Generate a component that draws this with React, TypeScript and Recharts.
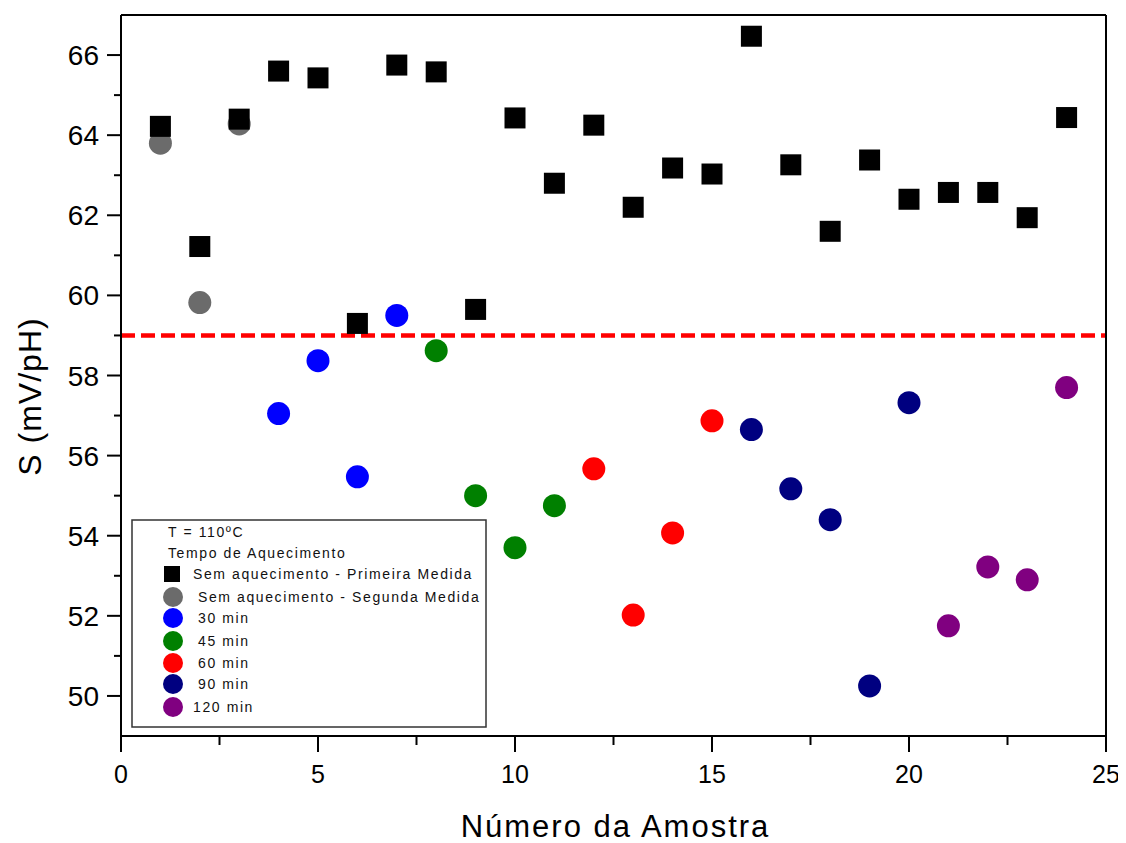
import React from 'react';
import { ScatterChart, Scatter, XAxis, YAxis, ReferenceLine, Legend } from 'recharts';

const FONT = '"Liberation Sans", Arial, sans-serif';

// ---- data ----
const primeiraX = [1, 2, 3, 4, 5, 6, 7, 8, 9, 10, 11, 12, 13, 14, 15, 16, 17, 18, 19, 20, 21, 22, 23, 24];
const primeiraS = [64.22, 61.22, 64.4, 65.6, 65.43, 59.3, 65.75, 65.58, 59.65, 64.43, 62.8, 64.25, 62.2, 63.18, 63.03, 66.47, 63.26, 61.6, 63.38, 62.4, 62.57, 62.57, 61.94, 64.44];
const segundaX = [1, 2, 3];
const segundaS = [63.8, 59.82, 64.28];
const min30X = [4, 5, 6, 7];
const min30S = [57.05, 58.37, 55.47, 59.5];
const min45X = [8, 9, 10, 11];
const min45S = [58.62, 55.0, 53.7, 54.75];
const min60X = [12, 13, 14, 15];
const min60S = [55.67, 52.02, 54.07, 56.87];
const min90X = [16, 17, 18, 19, 20];
const min90S = [56.65, 55.17, 54.4, 50.25, 57.32];
const min120X = [21, 22, 23, 24];
const min120S = [51.75, 53.22, 52.9, 57.7];

const referenceS = 59;

const xTicks = [0, 2.5, 5, 7.5, 10, 12.5, 15, 17.5, 20, 22.5, 25];
const yTicks = [50, 51, 52, 53, 54, 55, 56, 57, 58, 59, 60, 61, 62, 63, 64, 65, 66];
const rightTicks = [1, 2, 3, 4, 5, 6, 7, 8, 9];

const legendTitle1 = 'T = 110ºC';
const legendTitle2 = 'Tempo de Aquecimento';

const zip = (xs: number[], ys: number[]) => xs.map((x, i) => ({ x, y: ys[i] }));

type Series = { name: string; color: string; shape: 'square' | 'circle'; data: { x: number; y: number }[]; textX: number };

const series: Series[] = [
  { name: 'Sem aquecimento - Primeira Medida', color: '#000000', shape: 'square', data: zip(primeiraX, primeiraS), textX: 62 },
  { name: 'Sem aquecimento - Segunda Medida', color: '#6b6b6b', shape: 'circle', data: zip(segundaX, segundaS), textX: 67 },
  { name: '30 min', color: '#0000ff', shape: 'circle', data: zip(min30X, min30S), textX: 67 },
  { name: '45 min', color: '#008000', shape: 'circle', data: zip(min45X, min45S), textX: 67 },
  { name: '60 min', color: '#ff0000', shape: 'circle', data: zip(min60X, min60S), textX: 67 },
  { name: '90 min', color: '#000080', shape: 'circle', data: zip(min90X, min90S), textX: 67 },
  { name: '120 min', color: '#800080', shape: 'circle', data: zip(min120X, min120S), textX: 62 },
];

const drawOrder = [1, 0, 2, 3, 4, 5, 6];

const makeShape = (s: Series) => (p: any) => {
  if (p.cx == null || p.cy == null) return <g />;
  if (s.shape === 'square') {
    return <rect x={p.cx - 10.5} y={p.cy - 10.5} width={21} height={21} fill={s.color} />;
  }
  return <circle cx={p.cx} cy={p.cy} r={11.5} fill={s.color} />;
};

// ---- ticks ----
const BottomTick = (p: any) => {
  const v = p.payload.value;
  const major = v % 5 === 0;
  return (
    <g>
      <line x1={p.x} y1={p.y} x2={p.x} y2={p.y + (major ? 16 : 9)} stroke="#000" strokeWidth={2} />
      {major && (
        <text x={p.x} y={p.y + 47} textAnchor="middle" fontSize={25} fontFamily={FONT} fill="#000">
          {v}
        </text>
      )}
    </g>
  );
};

const TopTick = (p: any) => {
  const v = p.payload.value;
  const major = v % 5 === 0;
  if (v === 0 || v === 25) return <g />;
  return <line x1={p.x} y1={p.y} x2={p.x} y2={p.y + (major ? 15 : 9)} stroke="#000" strokeWidth={2} />;
};

const LeftTick = (p: any) => {
  const v = p.payload.value;
  const major = v % 2 === 0;
  return (
    <g>
      <line x1={p.x} y1={p.y} x2={p.x - (major ? 14 : 7)} y2={p.y} stroke="#000" strokeWidth={2} />
      {major && (
        <text x={p.x - 22} y={p.y + 10} textAnchor="end" fontSize={28} fontFamily={FONT} fill="#000">
          {v}
        </text>
      )}
    </g>
  );
};

const RightTick = (p: any) => {
  const v = p.payload.value;
  const major = v % 2 === 0;
  return <line x1={p.x} y1={p.y} x2={p.x - (major ? 14 : 6)} y2={p.y} stroke="#000" strokeWidth={2} />;
};

const YLabel = (props: any) => {
  const vb = props.viewBox || { x: 112, y: 7, width: 1, height: 721 };
  const cx = vb.x + vb.width - 91;
  const cy = vb.y + vb.height / 2 + 21;
  return (
    <text
      x={cx}
      y={cy}
      transform={`rotate(-90, ${cx}, ${cy})`}
      textAnchor="middle"
      dominantBaseline="central"
      fontSize={32}
      fontFamily={FONT}
      fill="#000"
      style={{ letterSpacing: '1px' }}
    >
      S (mV/pH)
    </text>
  );
};

const XLabel = (props: any) => {
  const vb = props.viewBox || { x: 113, y: 728, width: 985, height: 1 };
  return (
    <text
      x={vb.x + vb.width / 2 + 2}
      y={vb.y + 101}
      textAnchor="middle"
      fontSize={31}
      fontFamily={FONT}
      fill="#000"
      style={{ letterSpacing: '2px' }}
    >
      Número da Amostra
    </text>
  );
};

const rowY = [55, 78, 99, 122, 144, 165, 188];

const LegendBox = () => (
  <svg width={356} height={209} style={{ display: 'block' }}>
    <rect x={1} y={1} width={354} height={207} fill="#fff" stroke="#333" strokeWidth={1.5} />
    <g fontFamily={FONT} fontSize={14} fill="#111" style={{ letterSpacing: '1.6px' }}>
      <text x={37} y={18}>{legendTitle1}</text>
      <text x={37} y={39}>{legendTitle2}</text>
      {series.map((s, i) => (
        <g key={s.name}>
          {s.shape === 'square' ? (
            <rect x={41 - 8} y={rowY[i] - 8} width={16} height={16} fill={s.color} />
          ) : (
            <circle cx={42} cy={rowY[i]} r={10} fill={s.color} />
          )}
          <text x={s.textX} y={rowY[i] + 5}>{s.name}</text>
        </g>
      ))}
    </g>
  </svg>
);

export default function App() {
  return (
    <div style={{ width: 1118, height: 835 }}>
      <ScatterChart width={1118} height={835} margin={{ top: 6, right: 19, bottom: 106, left: 112 }}>
        <XAxis
          xAxisId="x"
          type="number"
          dataKey="x"
          domain={[0, 25]}
          ticks={xTicks}
          interval={0}
          orientation="bottom"
          height={1}
          tickSize={0}
          tickMargin={0}
          tickLine={false}
          tick={BottomTick}
          axisLine={{ stroke: '#000', strokeWidth: 2 }}
          label={{ content: XLabel }}
        />
        <XAxis
          xAxisId="top"
          type="number"
          domain={[0, 25]}
          ticks={xTicks}
          interval={0}
          orientation="top"
          height={1}
          tickSize={0}
          tickMargin={0}
          tickLine={false}
          tick={TopTick}
          axisLine={{ stroke: '#000', strokeWidth: 2 }}
        />
        <YAxis
          yAxisId="l"
          type="number"
          dataKey="y"
          domain={[49, 67]}
          ticks={yTicks}
          interval={0}
          orientation="left"
          width={1}
          tickSize={0}
          tickMargin={0}
          tickLine={false}
          tick={LeftTick}
          axisLine={{ stroke: '#000', strokeWidth: 2 }}
          label={{ content: YLabel }}
        />
        <YAxis
          yAxisId="r"
          type="number"
          domain={[0, 10]}
          ticks={rightTicks}
          interval={0}
          orientation="right"
          width={1}
          tickSize={0}
          tickMargin={0}
          tickLine={false}
          tick={RightTick}
          axisLine={{ stroke: '#000', strokeWidth: 2 }}
        />
        <ReferenceLine
          xAxisId="x"
          yAxisId="l"
          y={referenceS}
          stroke="#ff0000"
          strokeWidth={4.5}
          strokeDasharray="14 6"
        />
        {drawOrder.map((i) => {
          const s = series[i];
          return (
            <Scatter
              key={s.name}
              name={s.name}
              xAxisId="x"
              yAxisId="l"
              data={s.data}
              fill={s.color}
              shape={makeShape(s)}
              isAnimationActive={false}
            />
          );
        })}
        <Legend
          layout="horizontal"
          verticalAlign="middle"
          align="center"
          content={LegendBox}
          wrapperStyle={{ position: 'absolute', left: 123, top: 511, width: 356, height: 209 }}
        />
      </ScatterChart>
    </div>
  );
}
